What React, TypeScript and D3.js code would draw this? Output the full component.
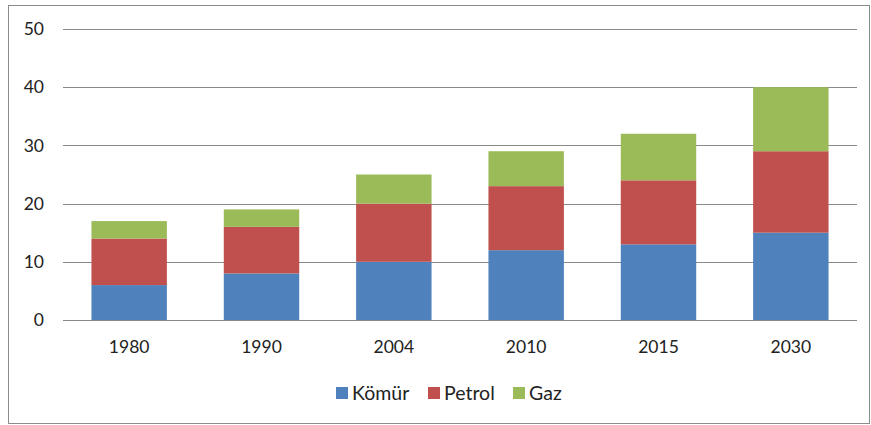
import React, { useRef, useEffect } from 'react';
import * as d3 from 'd3';

// data
const years = ['1980', '1990', '2004', '2010', '2015', '2030'];
const komur = [6, 8, 10, 12, 13, 15];
const petrol = [8, 8, 10, 11, 11, 14];
const gaz = [3, 3, 5, 6, 8, 11];
const seriesNames = ['Kömür', 'Petrol', 'Gaz'];
const yTicks = [0, 10, 20, 30, 40, 50];

// constants
const width = 871;
const height = 425;
const margin = { top: 29, right: 14, bottom: 105, left: 63 };
const colours = ['#4F81BD', '#C0504D', '#9BBB59'];
const font = 'Lato, "Open Sans", sans-serif';

const App = () => {
  const gRef = useRef<SVGGElement>(null);

  useEffect(() => {
    const g = d3.select(gRef.current);
    g.selectAll('*').remove();

    const xScale = d3.scaleBand()
      .domain(years)
      .range([margin.left, width - margin.right])
      .paddingInner(0.43)
      .paddingOuter(0.215);
    const yScale = d3.scaleLinear()
      .domain([0, 50])
      .range([height - margin.bottom, margin.top]);

    const table = years.map((y, i) => ({ year: y, Kömür: komur[i], Petrol: petrol[i], Gaz: gaz[i] }));
    const stacked = d3.stack<any>().keys(seriesNames)(table);

    // outer frame
    g.append('rect')
      .attr('x', 8.5).attr('y', 5.5)
      .attr('width', 861).attr('height', 418)
      .attr('fill', 'white')
      .attr('stroke', '#8c8c8c');

    // gridlines + y labels
    const yAxis = g.append('g');
    yAxis.selectAll('line')
      .data(yTicks)
      .join('line')
        .attr('x1', margin.left).attr('x2', width - margin.right)
        .attr('y1', d => Math.round(yScale(d)) + 0.5)
        .attr('y2', d => Math.round(yScale(d)) + 0.5)
        .attr('stroke', '#8a8a8a');
    yAxis.selectAll('text')
      .data(yTicks)
      .join('text')
        .attr('x', 44)
        .attr('y', d => yScale(d))
        .attr('dy', '0.35em')
        .attr('text-anchor', 'end')
        .style('font-family', font)
        .style('font-size', '17.5px')
        .attr('fill', '#222')
        .text(d => d);

    // bars
    g.append('g').selectAll('g')
      .data(stacked)
      .join('g')
        .attr('fill', (d, i) => colours[i])
      .selectAll('rect')
      .data(d => d)
      .join('rect')
        .attr('x', d => xScale(d.data.year))
        .attr('width', xScale.bandwidth())
        .attr('y', d => yScale(d[1]))
        .attr('height', d => yScale(d[0]) - yScale(d[1]));

    // x labels
    g.append('g').selectAll('text')
      .data(years)
      .join('text')
        .attr('x', d => xScale(d) + xScale.bandwidth() / 2)
        .attr('y', 347)
        .attr('dy', '0.35em')
        .attr('text-anchor', 'middle')
        .style('font-family', font)
        .style('font-size', '17.5px')
        .attr('fill', '#222')
        .text(d => d);

    // legend
    const legendX = [336, 428, 513];
    const legend = g.append('g').selectAll('g')
      .data(seriesNames)
      .join('g')
        .attr('transform', (d, i) => `translate(${legendX[i]}, 393)`);
    legend.append('rect')
      .attr('x', 0).attr('y', -6)
      .attr('width', 12).attr('height', 12)
      .attr('fill', (d, i) => colours[i]);
    legend.append('text')
      .attr('x', 16)
      .attr('dy', '0.35em')
      .style('font-family', font)
      .style('font-size', '19.5px')
      .attr('fill', '#222')
      .text(d => d);
  }, []);

  return (
    <svg width={width} height={height} style={{ position: 'absolute', left: 0, top: 0 }}>
      <g ref={gRef}></g>
    </svg>
  );
};

export default App;
